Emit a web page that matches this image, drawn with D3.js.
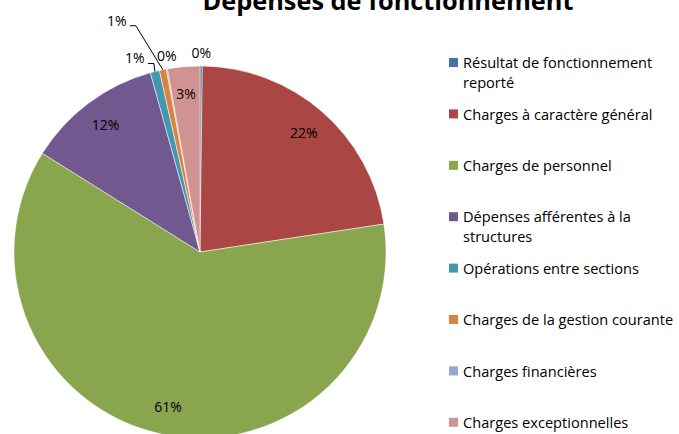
<!DOCTYPE html>
<html>
<head>
<meta charset="utf-8">
<script src="https://cdn.jsdelivr.net/npm/d3@7"></script>
<style>
  body { margin: 0; background: #fff; }
  svg { display: block; font-family: "Open Sans", Lato, sans-serif; }
</style>
</head>
<body>
<div id="chart"></div>
<script>
// Chart data
const title = "Dépenses de fonctionnement";
const categories = [
    "Résultat de fonctionnement reporté",
    "Charges à caractère général",
    "Charges de personnel",
    "Dépenses afférentes à la structures",
    "Opérations entre sections",
    "Charges de la gestion courante",
    "Charges financières",
    "Charges exceptionnelles"
];
const values = [0.2, 22.4, 61.3, 11.8, 0.8, 0.6, 0.1, 2.8];
const colors = ["#4572A7", "#AA4643", "#89A54E", "#71588F", "#4198AF", "#DB843D", "#93A9CF", "#D19392"];

const width = 679, height = 434;
const cx = 200, cy = 252, radius = 186;

const svg = d3.select("#chart")
    .append("svg")
    .attr("width", width)
    .attr("height", height);

// Title (top is cut off in the original), sized to the original width
const titleText = svg.append("text")
    .attr("x", 388)
    .attr("y", 10)
    .attr("text-anchor", "middle")
    .attr("font-size", 20)
    .attr("font-weight", "bold")
    .attr("fill", "#000")
    .text(title);
const tw = titleText.node().getComputedTextLength();
titleText.attr("font-size", 20 * 371 / tw);

const data = categories.map((c, i) => ({ name: c, value: values[i], color: colors[i] }));

const pie = d3.pie().sort(null).value(d => d.value);
const arcs = pie(data);
const arc = d3.arc().innerRadius(0).outerRadius(radius);

const g = svg.append("g").attr("transform", `translate(${cx},${cy})`);

g.selectAll("path.slice")
    .data(arcs)
    .enter()
    .append("path")
    .attr("class", "slice")
    .attr("d", arc)
    .attr("fill", d => d.data.color)
    .attr("stroke", "#fff")
    .attr("stroke-width", 0.5);

const pct = d => Math.round(d.data.value) + "%";
const mid = d => (d.startAngle + d.endAngle) / 2;

// Inside labels for the larger slices
const labelArc = d3.arc().innerRadius(radius * 0.85).outerRadius(radius * 0.85);
g.selectAll("text.inside")
    .data(arcs.filter(d => d.data.value >= 2))
    .enter()
    .append("text")
    .attr("class", "inside")
    .attr("transform", d => `translate(${labelArc.centroid(d)})`)
    .attr("text-anchor", "middle")
    .attr("dy", "0.35em")
    .attr("font-size", 14)
    .attr("fill", "#000")
    .text(pct);

// Outside labels for the small slices, resolved right to left
const small = arcs.filter(d => d.data.value < 2)
    .map(d => {
        const a = mid(d);
        const ex = radius * Math.sin(a), ey = -radius * Math.cos(a);
        return { arc: d, text: pct(d), nx: ex, ny: ey - 13, ex: ex, ey: ey, w: 30 };
    })
    .sort((a, b) => b.nx - a.nx);

const rowH = 36;
const placed = [];
small.forEach(l => {
    l.x = l.nx; l.y = l.ny; l.row = 0;
    const hit = placed.filter(p => p.row === 0 && Math.abs(p.x - l.x) < (p.w + l.w) / 2 + 2);
    if (hit.length) {
        const left = d3.min(hit, p => p.x - p.w / 2) - 2 - l.w / 2;
        if (l.nx - left > 25) {
            l.row = 1;
            l.y = l.ny - rowH;
            l.x = l.nx - 46;
        } else {
            l.x = left;
        }
        l.leader = true;
    }
    placed.push(l);
});

g.selectAll("text.outside")
    .data(small)
    .enter()
    .append("text")
    .attr("class", "outside")
    .attr("x", d => d.x)
    .attr("y", d => d.y)
    .attr("text-anchor", "middle")
    .attr("dy", "0.35em")
    .attr("font-size", 14)
    .attr("fill", "#000")
    .text(d => d.text);

g.selectAll("polyline.leader")
    .data(small.filter(d => d.leader))
    .enter()
    .append("polyline")
    .attr("class", "leader")
    .attr("fill", "none")
    .attr("stroke", "#000")
    .attr("stroke-width", 1)
    .attr("points", d => {
        const sx = d.x + 13, sy = d.y + 5;
        return [[sx, sy], [sx + 6, sy], [d.ex, d.ey]].map(p => p.join(",")).join(" ");
    });

// Legend
const legendX = 449, textX = 463, legendTop = 63, legendStep = 51.4, lineH = 20;
const maxW = width - textX;

const items = svg.selectAll("g.legend")
    .data(data)
    .enter()
    .append("g")
    .attr("class", "legend")
    .attr("transform", (d, i) => `translate(0,${legendTop + i * legendStep})`);

items.append("rect")
    .attr("x", legendX)
    .attr("y", -5)
    .attr("width", 9)
    .attr("height", 9)
    .attr("fill", d => d.color);

items.each(function(d) {
    const t = d3.select(this).append("text")
        .attr("x", textX)
        .attr("font-size", 14.6)
        .attr("fill", "#000");
    const words = d.name.split(" ");
    let line = [], lineNo = 0;
    let tspan = t.append("tspan").attr("x", textX).attr("y", 0).attr("dy", "0.35em");
    words.forEach(w => {
        line.push(w);
        tspan.text(line.join(" "));
        if (tspan.node().getComputedTextLength() > maxW && line.length > 1) {
            line.pop();
            tspan.text(line.join(" "));
            line = [w];
            lineNo++;
            tspan = t.append("tspan").attr("x", textX).attr("y", lineNo * lineH).attr("dy", "0.35em").text(w);
        }
    });
});
</script>
</body>
</html>
